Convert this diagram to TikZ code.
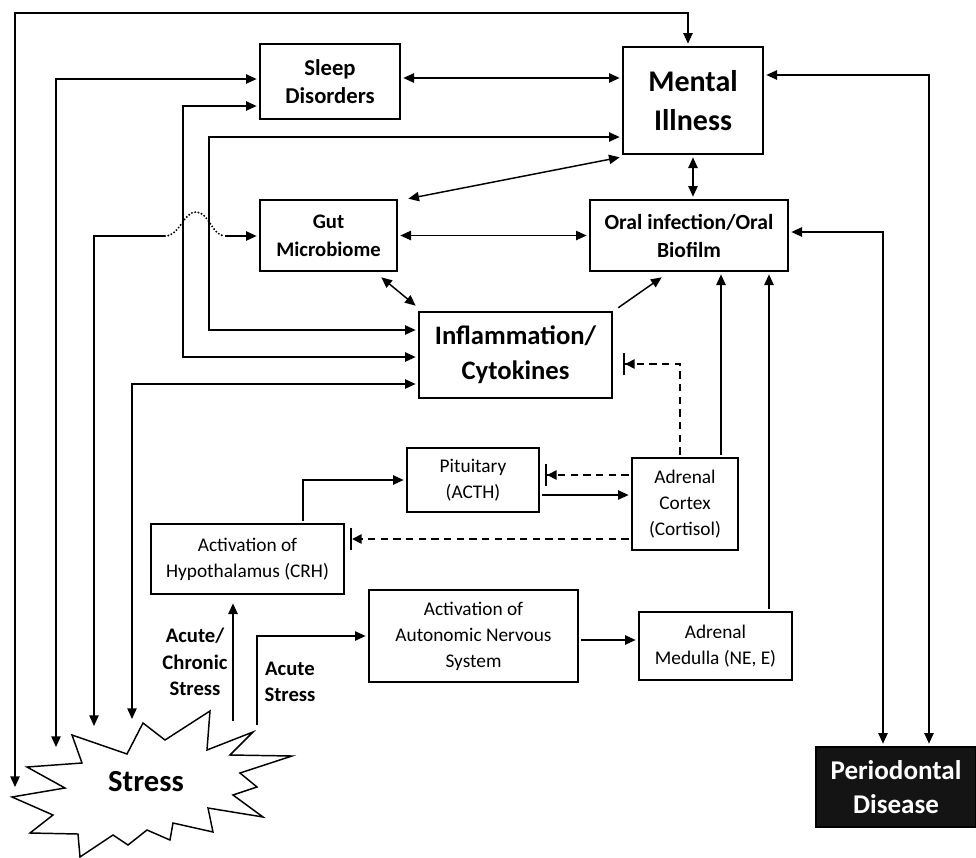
\documentclass[tikz,border=0pt]{standalone}
\usepackage{fontspec}
\setmainfont{Carlito}
\usetikzlibrary{arrows.meta,calc}
\begin{document}
\begin{tikzpicture}[x=0.75pt,y=-0.75pt,
  >={Triangle[length=8pt,width=7pt]},
  line width=1.1pt,
  box/.style={draw,line width=1.1pt,inner sep=0pt,outer sep=2.5pt,align=center},
  bighd/.style={font=\bfseries\fontsize{22.5}{29}\selectfont},
  midhd/.style={font=\bfseries\fontsize{20}{26}\selectfont},
  smhd/.style={font=\bfseries\fontsize{15.5}{21}\selectfont},
  plain/.style={font=\fontsize{14.5}{19.5}\selectfont},
  lbl/.style={font=\bfseries\fontsize{15.5}{20}\selectfont,align=center},
  dsh/.style={dash pattern=on 5.5pt off 4pt},
  tee/.style={-{Triangle[length=7pt,width=7pt,sep=0pt]Bar[width=17pt,line width=1.4pt,sep=0pt]}}
]
\useasboundingbox (0,0) rectangle (976,858);

% boxes
\node[box,smhd,font=\bfseries\fontsize{17}{21}\selectfont,minimum width=105pt,minimum height=56.25pt] (sleep) at (330,81.5) {Sleep\\Disorders};
\node[box,bighd,minimum width=105pt,minimum height=80.25pt] (mental) at (693,100.5) {Mental\\Illness};
\node[box,smhd,minimum width=102.75pt,minimum height=53.25pt] (gut) at (328.5,235.5) {Gut\\Microbiome};
\node[box,smhd,font=\bfseries\fontsize{16.2}{21}\selectfont,minimum width=148.5pt,minimum height=53.25pt] (oral) at (689,235.5) {Oral infection/Oral\\Biofilm};
\node[box,midhd,minimum width=144.75pt,minimum height=64.5pt] (infl) at (515.5,355) {Inflammation/\\Cytokines};
\node[box,plain,minimum width=99pt,minimum height=48pt] (pit) at (473,480) {Pituitary\\(ACTH)};
\node[box,plain,minimum width=79.5pt,minimum height=69pt] (cortex) at (685,504) {Adrenal\\Cortex\\(Cortisol)};
\node[box,plain,minimum width=144.75pt,minimum height=52.5pt] (hyp) at (247.5,559) {Activation of\\Hypothalamus (CRH)};
\node[box,plain,minimum width=156.75pt,minimum height=69pt] (ans) at (473.5,636) {Activation of\\Autonomic Nervous\\System};
\node[box,plain,minimum width=114.75pt,minimum height=51pt] (med) at (715.5,646) {Adrenal\\Medulla (NE, E)};
\node[box,fill=black!92,text=white,font=\bfseries\fontsize{20.3}{26}\selectfont,minimum width=120pt,minimum height=60pt] (perio) at (896,787) {Periodontal\\Disease};

% stress star
\draw[line width=1.1pt,fill=white] (72,735) -- (82,763) -- (27,767) -- (65,788) -- (12,797) -- (53,815) -- (30,833) -- (78,834) -- (80,857) -- (113,835) -- (128,845) -- (147,830) -- (170,840) -- (173,823) -- (213,832) -- (208,808) -- (263,817) -- (233,795) -- (257,787) -- (240,773) -- (292,756) -- (230,755) -- (253,732) -- (207,750) -- (210,711) -- (165,740) -- (143,723) -- (127,754) -- cycle;
\node[font=\bfseries\fontsize{23}{26}\selectfont] (stress) at (146,782) {Stress};

\coordinate (st1) at (15,787);
\coordinate (st2) at (56,747);
\coordinate (st6) at (94,726);
\coordinate (st5) at (132,719);
\coordinate (st20) at (233,721);
\coordinate (st21) at (257,725);

% long connectors
\draw[<->] (st1) -- (15,13) -| ($(mental.north)+(-5,0)$);
\draw[<->] (st2) |- (sleep.west |- 0,79);
\draw[<->] (sleep.west |- 0,106) -| (183,357) -- (infl.west |- 0,357);
\draw[<->] (mental.west |- 0,137) -| (209,330) -- (infl.west |- 0,330);
\draw[<->] (st5) |- (infl.west |- 0,384);
\draw[<-] (st6) |- (165,236);
\draw[line width=1.6pt,line cap=round,dash pattern=on 0pt off 2.5pt] (165,236) .. controls (180,236) and (183,212) .. (196,212) .. controls (209,212) and (212,236) .. (225,236);
\draw[->] (225,236) -- (gut.west |- 0,236);

% upper network
\draw[<->] (sleep.east |- 0,78) -- (mental.west |- 0,78);
\draw[<->] ($(gut.north east)+(8,2)$) -- (mental.south west);
\draw[<->] (gut.east) -- (oral.west);
\draw[<->] (mental.south) -- (mental.south |- oral.north);
\draw[<->] ($(gut.south east)+(-19,3)$) -- ($(infl.north west)+(0,-3)$);
\draw[->] ($(infl.north east)+(3,-1)$) -- ($(oral.south west)+(75,3)$);

% HPA axis
\draw[dsh,tee] (cortex.north -| 680,0) |- ($(infl.east |- 0,364)+(8,0)$);
\draw[->] (cortex.north -| 721,0) -- (oral.south -| 721,0);
\draw[->] (med.north -| 769,0) -- (oral.south -| 769,0);
\draw[->] (pit.east |- 0,495) -- (cortex.west |- 0,495);
\draw[dsh,tee] (cortex.west |- 0,475) -- ($(pit.east |- 0,475)+(3,0)$);
\draw[dsh,tee] (cortex.west |- 0,539) -- ($(hyp.east |- 0,539)+(3,0)$);
\draw[->] (hyp.north -| 303,0) |- (pit.west);
\draw[->] (st20) -- ($(st20 |- hyp.south)+(0,6)$);
\draw[->] (st21) |- (ans.west);
\draw[->] (ans.east |- 0,640) -- (med.west |- 0,640);

% periodontal
\draw[<->] (oral.east |- 0,232) -| (perio.north -| 883,0);
\draw[<->] (mental.east |- 0,75) -| (perio.north -| 929,0);

% labels
\node[lbl] (lbl1) at (195,662) {Acute/\\Chronic\\Stress};
\node[lbl] (lbl2) at (290,682) {Acute\\Stress};
\end{tikzpicture}
\end{document}
